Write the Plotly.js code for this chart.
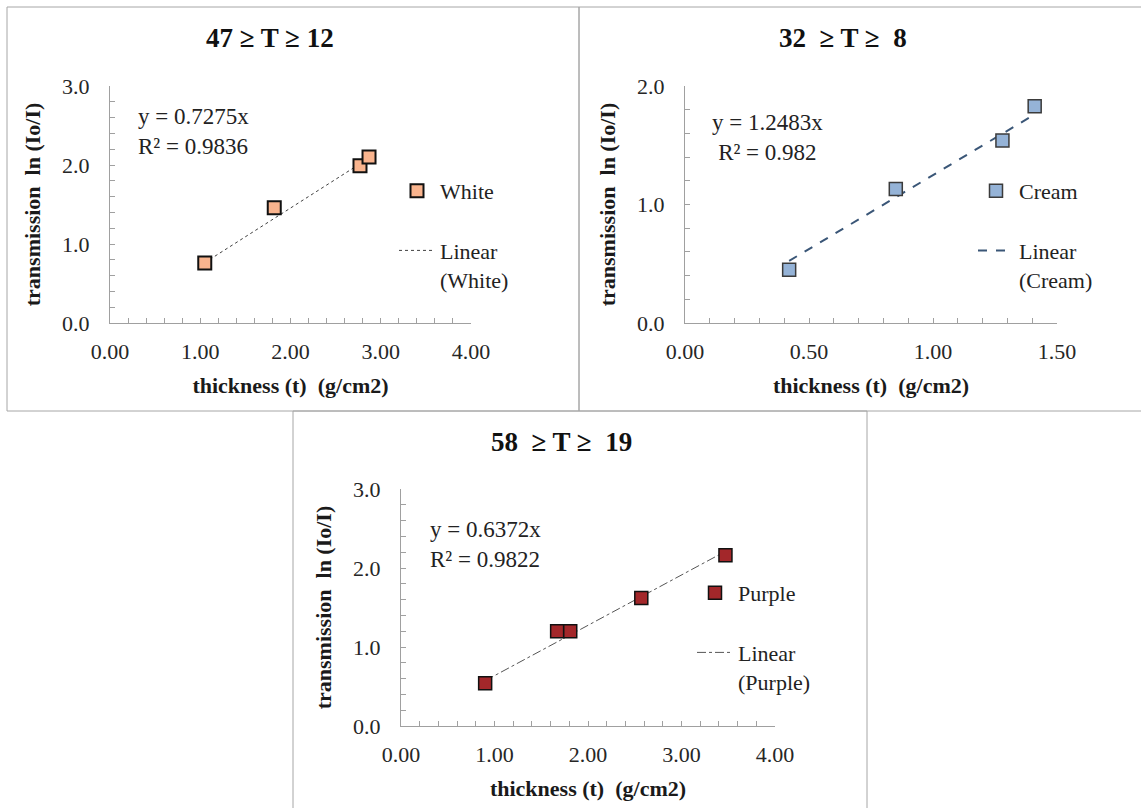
<!DOCTYPE html>
<html>
<head>
<meta charset="utf-8">
<script src="https://cdn.plot.ly/plotly-3.0.1.min.js"></script>
<style>html,body{margin:0;padding:0;background:#fff;}#chart{width:1141px;height:808px;}</style>
</head>
<body>
<div id="chart"></div>
<script>
// ---- data ----
const whiteThickness = [1.05, 1.82, 2.77, 2.87];
const whiteLn = [0.76, 1.46, 1.99, 2.10];
const whiteSlope = 0.7275;
const whiteR2 = 0.9836;

const creamThickness = [0.42, 0.85, 1.28, 1.41];
const creamLn = [0.45, 1.13, 1.54, 1.83];
const creamSlope = 1.2483;
const creamR2 = 0.982;

const purpleThickness = [0.90, 1.67, 1.81, 2.57, 3.47];
const purpleLn = [0.54, 1.20, 1.20, 1.62, 2.16];
const purpleSlope = 0.6372;
const purpleR2 = 0.9822;

const panelTitles = ["47 \u2265 T \u2265 12", "32 \u00a0\u2265 T \u2265 \u00a08", "58 \u00a0\u2265 T \u2265 \u00a019"];
const xTitle = "thickness (t)\u00a0 (g/cm2)";
const yTitle = "transmission\u00a0 ln (Io/I)";

// ---- helpers ----
const W = 1141, H = 808;
const px = v => v / W;
const py = v => 1 - v / H;
const FONT = "Liberation Serif, Times New Roman, serif";

function trend(xs, slope) {
  const lo = Math.min(...xs), hi = Math.max(...xs);
  return { x: [lo, hi], y: [slope * lo, slope * hi] };
}

const tw = trend(whiteThickness, whiteSlope);
const tc = trend(creamThickness, creamSlope);
const tp = trend(purpleThickness, purpleSlope);

const traces = [
  { x: tw.x, y: tw.y, xaxis: 'x', yaxis: 'y', mode: 'lines', name: 'Linear<br>(White)',
    line: { color: '#404040', width: 1, dash: 'dot' }, legend: 'legend', legendgroup: 'w2' },
  { x: whiteThickness, y: whiteLn, xaxis: 'x', yaxis: 'y', mode: 'markers', name: 'White',
    marker: { symbol: 'square', size: 13, color: '#F9B48E', line: { color: '#111', width: 2 } },
    legend: 'legend', legendgroup: 'w1', legendrank: 1 },

  { x: tc.x, y: tc.y, xaxis: 'x2', yaxis: 'y2', mode: 'lines', name: 'Linear<br>(Cream)',
    line: { color: '#3A5677', width: 2, dash: 'dash' }, legend: 'legend2', legendgroup: 'c2' },
  { x: creamThickness, y: creamLn, xaxis: 'x2', yaxis: 'y2', mode: 'markers', name: 'Cream',
    marker: { symbol: 'square', size: 13, color: '#95B3D7', line: { color: '#3b3b3b', width: 1.5 } },
    legend: 'legend2', legendgroup: 'c1', legendrank: 1 },

  { x: tp.x, y: tp.y, xaxis: 'x3', yaxis: 'y3', mode: 'lines', name: 'Linear<br>(Purple)',
    line: { color: '#555', width: 1, dash: 'dashdot' }, legend: 'legend3', legendgroup: 'p2' },
  { x: purpleThickness, y: purpleLn, xaxis: 'x3', yaxis: 'y3', mode: 'markers', name: 'Purple',
    marker: { symbol: 'square', size: 13, color: '#A3272A', line: { color: '#111', width: 1.5 } },
    legend: 'legend3', legendgroup: 'p1', legendrank: 1 }
];

function xAxis(domain, range, dtick, minor, anchor) {
  return {
    domain: domain, range: range, anchor: anchor, dtick: dtick, tick0: 0,
    tickformat: '.2f', showgrid: false, zeroline: false,
    showline: true, linecolor: '#A0A0A0', linewidth: 1,
    ticks: 'inside', ticklen: 5, tickcolor: '#A0A0A0',
    minor: { dtick: minor, ticks: 'inside', ticklen: 5, tickcolor: '#A0A0A0', showgrid: false },
    tickfont: { family: FONT, size: 22, color: '#262626' },
    ticklabelstandoff: 9,
    title: { text: xTitle, font: { family: FONT, size: 22, color: '#1a1a1a', weight: 'bold' }, standoff: 14 },
    fixedrange: true
  };
}
function yAxis(domain, range, minor, anchor) {
  return {
    domain: domain, range: range, anchor: anchor, dtick: 1, tick0: 0,
    tickformat: '.1f', showgrid: false, zeroline: false,
    showline: true, linecolor: '#A0A0A0', linewidth: 1,
    ticks: 'inside', ticklen: 5, tickcolor: '#A0A0A0',
    minor: { dtick: minor, ticks: 'inside', ticklen: 5, tickcolor: '#A0A0A0', showgrid: false },
    tickfont: { family: FONT, size: 22, color: '#262626' },
    ticklabelstandoff: 15,
    title: { text: yTitle, font: { family: FONT, size: 22, color: '#1a1a1a', weight: 'bold' }, standoff: 15 },
    fixedrange: true
  };
}

const legendBase = {
  orientation: 'v', bgcolor: 'rgba(0,0,0,0)', borderwidth: 0,
  font: { family: FONT, size: 22, color: '#222' },
  tracegroupgap: 28, xanchor: 'left', yanchor: 'top', traceorder: 'grouped',
  itemwidth: 36, valign: 'top'
};

const annFont = { family: FONT, size: 23, color: '#222' };
const titleFont = { family: FONT, size: 27, color: '#111', weight: 'bold' };

const layout = {
  width: W, height: H,
  margin: { l: 0, r: 0, t: 0, b: 0 },
  paper_bgcolor: '#fff', plot_bgcolor: 'rgba(0,0,0,0)',
  showlegend: true,
  xaxis: xAxis([px(110), px(471)], [0, 4], 1, 0.2, 'y'),
  yaxis: yAxis([py(323), py(86)], [0, 3], 0.2, 'x'),
  xaxis2: xAxis([px(685), px(1057)], [0, 1.5], 0.5, 0.1, 'y2'),
  yaxis2: yAxis([py(323), py(86)], [0, 2], 0.2, 'x2'),
  xaxis3: xAxis([px(401), px(775)], [0, 4], 1, 0.2, 'y3'),
  yaxis3: yAxis([py(726), py(489)], [0, 3], 0.2, 'x3'),
  legend: Object.assign({}, legendBase, { x: px(394), y: py(170) }),
  legend2: Object.assign({}, legendBase, { x: px(973), y: py(170) }),
  legend3: Object.assign({}, legendBase, { x: px(692), y: py(572) }),
  shapes: [
    { type: 'rect', xref: 'paper', yref: 'paper', x0: px(7), x1: px(579), y0: py(411), y1: py(7), line: { color: '#A6A6A6', width: 1 } },
    { type: 'rect', xref: 'paper', yref: 'paper', x0: px(579), x1: px(1145), y0: py(411), y1: py(7), line: { color: '#A6A6A6', width: 1 } },
    { type: 'rect', xref: 'paper', yref: 'paper', x0: px(293), x1: px(867), y0: py(812), y1: py(411), line: { color: '#A6A6A6', width: 1 } }
  ],
  annotations: [
    { text: panelTitles[0], xref: 'paper', yref: 'paper', x: px(270), y: py(38), showarrow: false, font: titleFont, xanchor: 'center', yanchor: 'middle' },
    { text: panelTitles[1], xref: 'paper', yref: 'paper', x: px(843), y: py(38), showarrow: false, font: titleFont, xanchor: 'center', yanchor: 'middle' },
    { text: panelTitles[2], xref: 'paper', yref: 'paper', x: px(561), y: py(442), showarrow: false, font: titleFont, xanchor: 'center', yanchor: 'middle' },
    { text: 'y = ' + whiteSlope + 'x<br>R\u00b2 = ' + whiteR2, xref: 'paper', yref: 'paper', x: px(136), y: py(131), showarrow: false, font: annFont, xanchor: 'left', yanchor: 'middle', align: 'left' },
    { text: 'y = ' + creamSlope + 'x<br>R\u00b2 = ' + creamR2, xref: 'paper', yref: 'paper', x: px(767), y: py(137), showarrow: false, font: annFont, xanchor: 'center', yanchor: 'middle', align: 'center' },
    { text: 'y = ' + purpleSlope + 'x<br>R\u00b2 = ' + purpleR2, xref: 'paper', yref: 'paper', x: px(428), y: py(544), showarrow: false, font: annFont, xanchor: 'left', yanchor: 'middle', align: 'left' }
  ]
};

Plotly.newPlot('chart', traces, layout, { staticPlot: true, displayModeBar: false });
</script>
</body>
</html>
